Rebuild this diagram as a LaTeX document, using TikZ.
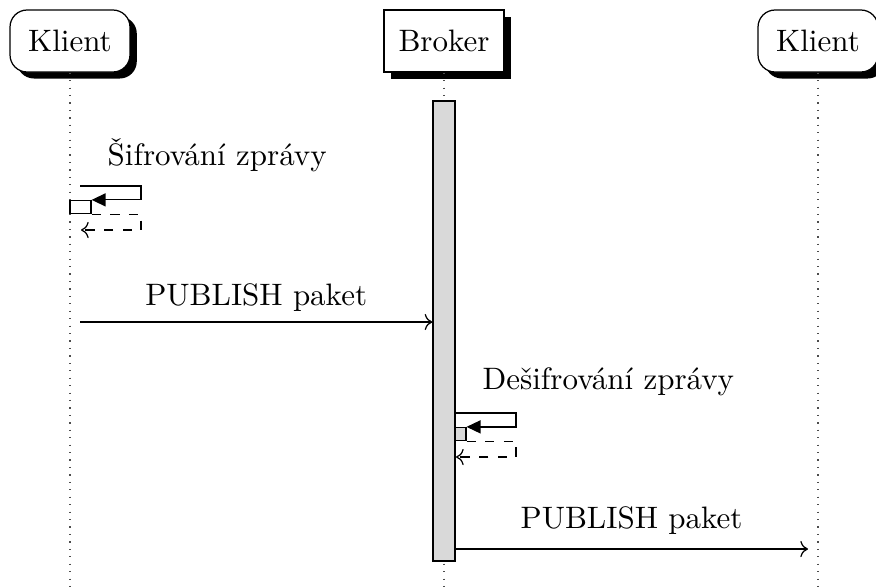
\documentclass[tikz,border=0pt]{standalone}
\usetikzlibrary{shadows,arrows.meta}
\begin{document}
\begin{tikzpicture}[x=0.3226pt, y=-0.3226pt,
  inst/.style={draw, fill=white, minimum width=38.7pt, minimum height=20pt,
    drop shadow={shadow xshift=2.2pt, shadow yshift=-2.1pt, fill=black, opacity=1}},
  klient/.style={inst, rounded corners=5.5pt},
  life/.style={dotted, black!70},
  actbox/.style={draw, inner sep=0pt, minimum height=4.2pt},
  msg/.style={->},
  selfmsg/.style={-{Triangle[length=4.5pt,width=4.2pt]}},
  ret/.style={dashed, ->}]
  \useasboundingbox (0,0) rectangle (876,587);
  \node[klient] (k1) at (70,41) {Klient};
  \node[inst] (br) at (444,41) {Broker};
  \node[klient] (k2) at (818,41) {Klient};
  \foreach \n in {k1,br,k2} \draw[life] (\n.south) -- (\n.south |- 0,587);
  \node[draw, fill=gray!30, inner sep=0pt, minimum width=7.1pt, minimum height=148.4pt] (bar) at (444,331) {};

  \coordinate (s1) at (80,186); \coordinate (s1r) at (141,186);
  \node[actbox, fill=white, minimum width=6.8pt] (act1) at (80.5,207) {};
  \draw[selfmsg] (s1) -- (s1r) |- (act1.north east);
  \coordinate (r1) at (141,230); \coordinate (r1e) at (81,230);
  \draw[ret] (act1.south east) -| (r1) -- (r1e);
  \node[anchor=south west, xshift=5.4pt, yshift=1pt] at (s1) {Šifrování zprávy};

  \coordinate (p1) at (80,322);
  \draw[msg] (p1) -- (p1 -| bar.west) node[midway, above] {PUBLISH paket};

  \coordinate (s2) at (455,413); \coordinate (s2r) at (516,413);
  \node[actbox, fill=gray!30, minimum width=3.5pt] (act2) at (460.5,434) {};
  \draw[selfmsg] (s2) -- (s2r) |- (act2.north east);
  \coordinate (r2) at (516,457); \coordinate (r2e) at (456,457);
  \draw[ret] (act2.south east) -| (r2) -- (r2e);
  \node[anchor=south west, xshift=5.4pt, yshift=2pt] at (s2) {Dešifrování zprávy};

  \coordinate (p2) at (455,549); \coordinate (p2e) at (808,549);
  \draw[msg] (p2) -- (p2e) node[midway, above, yshift=1pt] {PUBLISH paket};
\end{tikzpicture}
\end{document}
